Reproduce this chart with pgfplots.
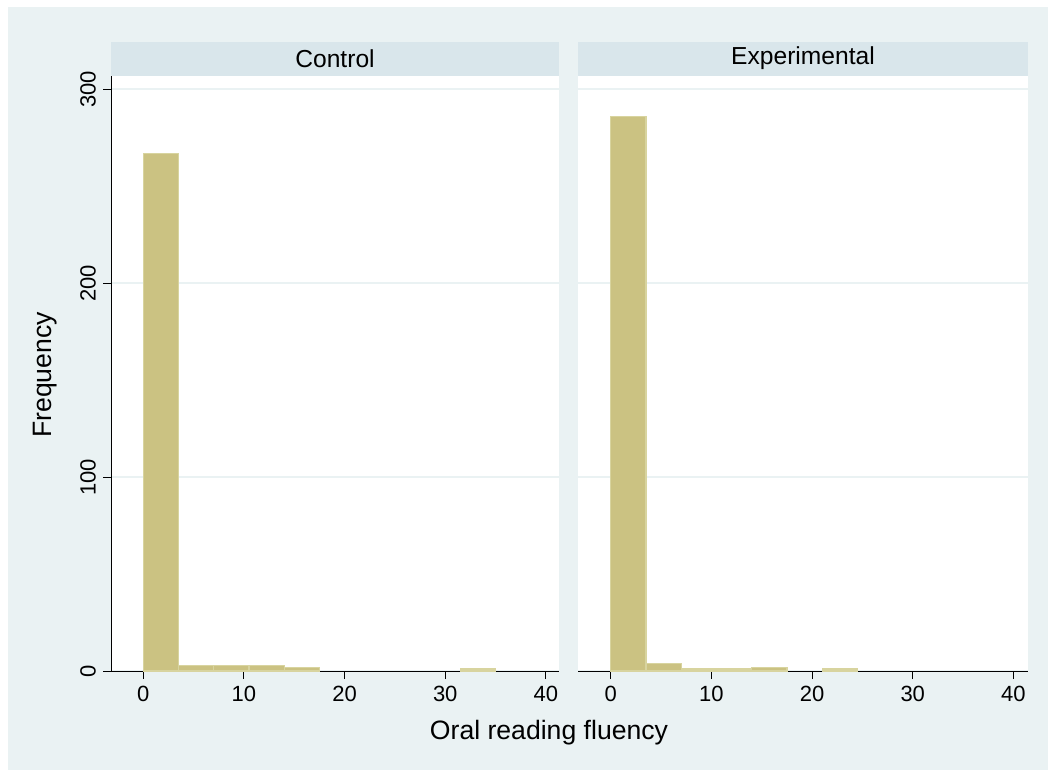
\documentclass[border=0pt]{standalone}
\usepackage{pgfplots}
\pgfplotsset{compat=1.18}
\usepackage{fontspec}
\setmainfont{Liberation Sans}
\definecolor{bgc}{RGB}{234,242,243}
\definecolor{stripc}{RGB}{217,230,235}
\definecolor{gridc}{RGB}{234,242,243}
\definecolor{barfill}{RGB}{203,194,130}
\definecolor{baredge}{RGB}{216,212,159}
\pgfplotsset{
  panel/.style={
    scale only axis,
    height=297.5pt,
    ymin=0, ymax=306.9,
    ytick={0,100,200,300},
    xtick={0,10,20,30,40},
    separate axis lines,
    axis x line*=bottom,
    axis y line*=left,
    axis line style={black, line width=0.5pt},
    tick align=outside,
    major tick length=4pt,
    tick style={black, line width=0.5pt},
    ymajorgrids,
    grid style={gridc, line width=0.9pt},
    ticklabel style={font=\fontsize{11}{13}\selectfont},
    /pgf/number format/assume math mode=true,
    axis background/.style={fill=white},
  },
  hbar/.style={ybar interval, fill=barfill, draw=baredge, line width=0.6pt},
}
\begin{document}
\begin{tikzpicture}
\fill[white] (0,0) rectangle (524pt,-385pt);
\fill[bgc] (4pt,-3.5pt) rectangle (524pt,-385pt);
% left panel
\begin{axis}[panel,
  name=left,
  at={(55.5pt,-335.5pt)}, anchor=south west,
  width=224pt,
  xmin=-3.2, xmax=41.3,
  yticklabel style={rotate=90, anchor=south},
]
\addplot[hbar] coordinates {
(0,267) (3.5,3) (7,3) (10.5,3) (14,2) (17.5,2)
};
\addplot[hbar] coordinates {
(31.5,1) (35,1)
};
\end{axis}
% right panel
\begin{axis}[panel,
  name=right,
  at={(289pt,-335.5pt)}, anchor=south west,
  width=225pt,
  xmin=-3.25, xmax=41.45,
  y axis line style={draw=none},
  ytick style={draw=none},
  yticklabels={},
]
\addplot[hbar] coordinates {
(0,286) (3.5,4) (7,1) (10.5,1) (14,2) (17.5,2)
};
\addplot[hbar] coordinates {
(21,1) (24.5,1)
};
\end{axis}
% strips
\fill[stripc] (55.5pt,-21pt) rectangle (279.5pt,-38pt);
\fill[stripc] (289pt,-21pt) rectangle (514pt,-38pt);
\node[font=\fontsize{12.3}{14}\selectfont] at (167.5pt,-29.3pt) {Control};
\node[font=\fontsize{12.3}{14}\selectfont] at (401.5pt,-29.3pt) {Experimental};
% axis titles
\node[font=\fontsize{13.3}{15}\selectfont] at (274.5pt,-366.5pt) {Oral reading fluency};
\node[font=\fontsize{13.3}{15}\selectfont, rotate=90] at (22.5pt,-187.5pt) {Frequency};
\end{tikzpicture}
\end{document}
